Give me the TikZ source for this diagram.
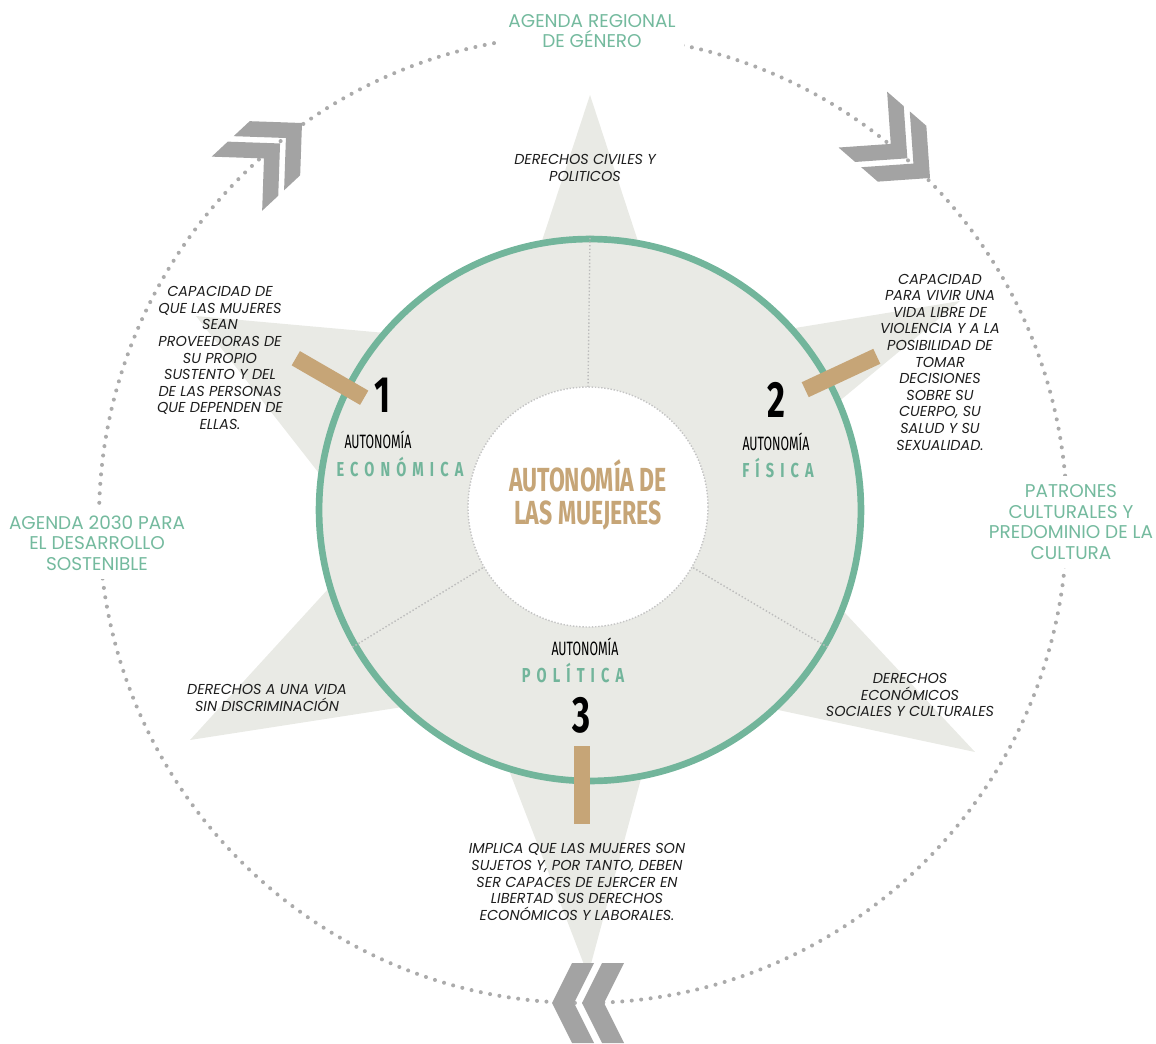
\documentclass[tikz,border=0pt]{standalone}
\usepackage{fontspec}
\setmainfont{Poppins}
\newfontfamily\condfont{Fira Sans}
\usepackage{graphicx}
\usepackage{xcolor}
\definecolor{cGreen}{HTML}{72B59B}
\definecolor{cLabel}{HTML}{74BA9E}
\definecolor{cTan}{HTML}{C6A577}
\definecolor{cStar}{HTML}{E9EAE5}
\definecolor{cChev}{HTML}{A3A3A3}
\definecolor{cDots}{HTML}{ABABAB}
\definecolor{cInk}{HTML}{1E1E1E}
\usetikzlibrary{positioning,calc}
\newcommand{\narrow}[2]{\scalebox{#1}[1]{#2}}
\tikzset{
  txt-note/.style={align=center,text=cInk,inner sep=1pt,
    font=\fontsize{8.2}{9.45}\selectfont\itshape},
  txt-agenda/.style={align=center,text=cLabel,fill=white,inner sep=5pt,
    font=\fontsize{10.5}{11.7}\selectfont},
  txt-auto/.style={text=black,inner sep=0pt,
    font=\condfont\fontsize{11}{11}\selectfont},
  txt-kind/.style={text=cGreen,inner sep=0pt,
    font=\condfont\bfseries\fontsize{11.5}{11.5}\selectfont\addfontfeature{LetterSpace=42}},
  txt-num/.style={text=black,inner sep=0pt,
    font=\condfont\bfseries\fontsize{29}{29}\selectfont},
  txt-core/.style={text=cTan,inner sep=0pt,
    font=\condfont\bfseries\fontsize{19}{18.8}\selectfont},
  bar-tan/.style={fill=cTan,minimum width=1.58cm,minimum height=0.33cm,inner sep=0pt},
  ring-dots/.style={draw=cDots,line width=2.3pt,line cap=round,dash pattern=on 0pt off 5.4pt},
  split-dots/.style={draw=cDots!80,line width=0.8pt,dash pattern=on 0.8pt off 1.2pt},
  pics/chevron/.style 2 args={code={
    \foreach \s in {0,-30}
      \fill[cChev,shift={(\s,0)}] (0,0) -- (-#1,#2) -- ({-#1-22},#2) -- (-22,0)
        -- ({-#1-22},-#2) -- (-#1,-#2) -- cycle;
  }},
}

\begin{document}
\begin{tikzpicture}[x=0.02cm,y=-0.02cm]
  \useasboundingbox (0,0) rectangle (1156,1044);
  % anillo exterior punteado
  \draw[ring-dots] (583,519) circle[radius=484];
  % estrella de seis puntas
  \fill[cStar] (590,95) -- (673,348) -- (960,301) -- (731,491) -- (975,752)
    -- (666,686) -- (588,975) -- (480,695) -- (190,740) -- (372,541)
    -- (196,316) -- (508,344) -- cycle;
  % circulo verde y nucleo
  \node[circle,fill=cStar,draw=cGreen,line width=3.8pt,minimum size=10.84cm,
    inner sep=0pt] (ring) at (590,510) {};
  \draw[split-dots] (588,387) -- (ring.90);
  \draw[split-dots] (ring.210) -- ($(588,507)+(150:120)$);
  \draw[split-dots] (ring.330) -- ($(588,507)+(30:120)$);
  \node[circle,fill=white,draw=cDots!70,densely dotted,line width=0.8pt,
    minimum size=4.8cm,inner sep=0pt] (hub) at (588,507) {};
  \node[txt-core] (core) at (588,497)
    {\narrow{0.69}{\begin{tabular}{@{}c@{}}AUTONOMÍA DE\\LAS MUEJERES\end{tabular}}};
  % barras
  \node[bar-tan,rotate=-30] (bar1) at (330,378) {};
  \node[bar-tan,rotate=25]  (bar2) at (841,373) {};
  \node[bar-tan,rotate=90]  (bar3) at (582,785) {};
  % autonomias
  \node[txt-num]  (num1)  at (383,395) {\narrow{0.68}{1}};
  \node[txt-auto] (auto1) at (378,440) {\narrow{0.64}{AUTONOMÍA}};
  \node[txt-kind] (kind1) at (400,467) {\narrow{0.72}{ECONÓMICA}};
  \node[txt-num]  (num2)  at (776,400) {\narrow{0.68}{2}};
  \node[txt-auto] (auto2) at (776,442) {\narrow{0.64}{AUTONOMÍA}};
  \node[txt-kind] (kind2) at (778,468) {\narrow{0.72}{FÍSICA}};
  \node[txt-num]  (num3)  at (582,715) {\narrow{0.68}{3}};
  \node[txt-auto] (auto3) at (585,647) {\narrow{0.64}{AUTONOMÍA}};
  \node[txt-kind] (kind3) at (573,673) {\narrow{0.72}{POLÍTICA}};
  % derechos y definiciones
  \node[txt-note] (civ) at (585,168) {DERECHOS CIVILES Y\\POLITICOS};
  \node[txt-note] (eco) at (220,358) {CAPACIDAD DE\\QUE LAS MUJERES\\SEAN\\PROVEEDORAS DE\\SU PROPIO\\SUSTENTO Y DEL\\DE LAS PERSONAS\\QUE DEPENDEN DE\\ELLAS.};
  \node[txt-note] (fis) at (940,362) {CAPACIDAD\\PARA VIVIR UNA\\VIDA LIBRE DE\\VIOLENCIA Y A LA\\POSIBILIDAD DE\\TOMAR\\DECISIONES\\SOBRE SU\\CUERPO, SU\\SALUD Y SU\\SEXUALIDAD.};
  \node[txt-note] (dis) at (267,698) {DERECHOS A UNA VIDA\\SIN DISCRIMINACIÓN};
  \node[txt-note] (des) at (910,695) {DERECHOS\\ECONÓMICOS\\SOCIALES Y CULTURALES};
  \node[txt-note] (pol) at (577,882) {IMPLICA QUE LAS MUJERES SON\\SUJETOS Y, POR TANTO, DEBEN\\SER CAPACES DE EJERCER EN\\LIBERTAD SUS DERECHOS\\ECONÓMICOS Y LABORALES.};
  % agendas sobre el anillo
  \node[txt-agenda] (agReg) at (592,31) {AGENDA REGIONAL\\DE GÉNERO};
  \node[txt-agenda] (ag2030) at (97,543) {AGENDA 2030 PARA\\EL DESARROLLO\\SOSTENIBLE};
  \node[txt-agenda] (agPat) at (1071,522) {PATRONES\\CULTURALES Y\\PREDOMINIO DE LA\\CULTURA};
  % flechas del ciclo
  \pic[rotate=43]  at (302,123)  {chevron={37}{37}};
  \pic[rotate=-41] at (930,178)  {chevron={37}{37}};
  \pic[rotate=180] at (552,1003) {chevron={20}{40}};
\end{tikzpicture}
\end{document}
